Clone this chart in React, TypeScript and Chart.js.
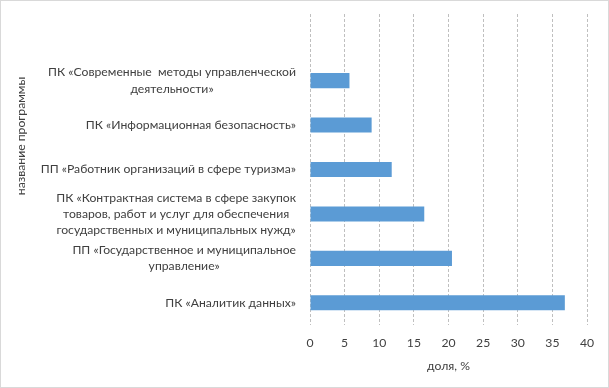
import React, { useEffect, useRef } from "react";
import { Chart, registerables } from "chart.js";

Chart.register(...registerables);

// Categories (top to bottom); the first row is empty in the source chart
const categories: string[][] = [
  [""],
  ["ПК «Современные  методы управленческой", "деятельности»"],
  ["ПК «Информационная безопасность»"],
  ["ПП «Работник организаций в сфере туризма»"],
  ["ПК «Контрактная система в сфере закупок", "товаров, работ и услуг для обеспечения", "государственных и муниципальных нужд»"],
  ["ПП «Государственное и муниципальное", "управление»"],
  ["ПК «Аналитик данных»"],
];
const shares: (number | null)[] = [null, 5.7, 8.9, 11.8, 16.5, 20.5, 36.8];
const xTicks = { min: 0, max: 40, step: 5 };
const xTitle = "доля, %";
const yTitle = "название программы";

const FONT = "Lato, 'Open Sans', sans-serif";
const FONT_SIZE = 12.2;
const TEXT_COLOR = "#404040";

const customPlugin = {
  id: "customLabels",
  afterDraw(chart: any) {
    const ctx = chart.ctx as CanvasRenderingContext2D;
    const yScale = chart.scales.y;
    const area = chart.chartArea;
    ctx.save();
    ctx.font = `${FONT_SIZE}px ${FONT}`;
    ctx.fillStyle = TEXT_COLOR;
    ctx.textBaseline = "middle";
    ctx.textAlign = "center";
    const lineH = 16.3;
    const rightEdge = area.left - 14;
    categories.forEach((lines, i) => {
      const y = yScale.getPixelForTick(i);
      const w = Math.max(...lines.map((l) => ctx.measureText(l).width));
      const cx = rightEdge - w / 2;
      const y0 = y - ((lines.length - 1) * lineH) / 2;
      lines.forEach((l, j) => {
        ctx.fillText(l, cx, y0 + j * lineH);
      });
    });
    // y axis title
    ctx.save();
    ctx.translate(21, 136);
    ctx.rotate(-Math.PI / 2);
    ctx.fillText(yTitle, 0, 0);
    ctx.restore();
    // chart border
    ctx.strokeStyle = "#D9D9D9";
    ctx.lineWidth = 1;
    ctx.strokeRect(0.5, 0.5, chart.width - 1, chart.height - 1);
    ctx.restore();
  },
};

export default function App() {
  const ref = useRef<HTMLCanvasElement | null>(null);
  useEffect(() => {
    document.body.style.margin = "0";
    const canvas = ref.current!;
    const chart = new Chart(canvas, {
      type: "bar",
      data: {
        labels: categories.map((c) => c.join(" ")),
        datasets: [
          {
            data: shares as any,
            backgroundColor: "#5B9BD5",
            borderWidth: 0,
            categoryPercentage: 1,
            barPercentage: 0.34,
          },
        ],
      },
      options: {
        indexAxis: "y",
        animation: false,
        responsive: false,
        devicePixelRatio: 1,
        layout: { padding: { top: 14, right: 22, bottom: 0, left: 0 } },
        plugins: {
          legend: { display: false },
          tooltip: { enabled: false },
        },
        scales: {
          x: {
            min: xTicks.min,
            max: xTicks.max,
            ticks: {
              stepSize: xTicks.step,
              color: TEXT_COLOR,
              font: { family: FONT, size: FONT_SIZE },
              padding: 11,
              maxRotation: 0,
            },
            grid: {
              color: "#BFBFBF",
              drawTicks: false,
            },
            border: { display: false, dash: [3, 2] },
            title: {
              display: true,
              text: xTitle,
              color: TEXT_COLOR,
              font: { family: FONT, size: FONT_SIZE },
              padding: { top: 0, bottom: 15 },
            },
            afterFit(scale: any) {
              scale.height = 63;
            },
          },
          y: {
            ticks: { display: false },
            grid: { display: false },
            border: { display: false },
            afterFit(scale: any) {
              scale.width = 310;
            },
          },
        },
      },
      plugins: [customPlugin],
    });
    return () => chart.destroy();
  }, []);
  return (
    <div style={{ width: 609, height: 388 }}>
      <canvas ref={ref} width={609} height={388} style={{ display: "block" }} />
    </div>
  );
}
